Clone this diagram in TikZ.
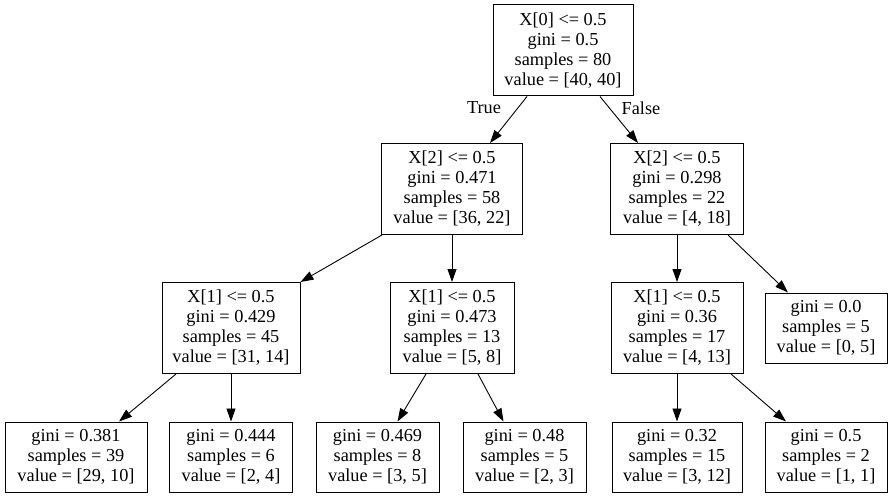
\documentclass[tikz,border=0pt]{standalone}
\usepackage{fontspec}
\setmainfont{Liberation Serif}
\usetikzlibrary{arrows.meta}
\begin{document}
\begin{tikzpicture}[x=1pt,y=-1pt,
  treebox/.style={draw=black, line width=1pt, align=center, inner xsep=6pt, inner ysep=0pt,
    font=\fontsize{18.3}{20}\selectfont},
  splitbox/.style={treebox, minimum height=91pt},
  leafbox/.style={treebox, minimum height=70pt},
  edge/.style={line width=0.9pt, -{Triangle[length=13pt,width=9pt]}},
  elabel/.style={font=\fontsize{18.3}{20}\selectfont, inner sep=0pt}]
\useasboundingbox (0,0) rectangle (893,497);

% split nodes
\node[splitbox, minimum width=140pt] (root) at (563,50.5) {X[0] <= 0.5\\gini = 0.5\\samples = 80\\value = [40, 40]};
\node[splitbox, minimum width=141pt] (l) at (452,189) {X[2] <= 0.5\\gini = 0.471\\samples = 58\\value = [36, 22]};
\node[splitbox, minimum width=133pt] (r) at (677,189) {X[2] <= 0.5\\gini = 0.298\\samples = 22\\value = [4, 18]};
\node[splitbox, minimum width=138pt] (ll) at (231,328) {X[1] <= 0.5\\gini = 0.429\\samples = 45\\value = [31, 14]};
\node[splitbox, minimum width=124pt] (lr) at (452,328) {X[1] <= 0.5\\gini = 0.473\\samples = 13\\value = [5, 8]};
\node[splitbox, minimum width=132pt] (rl) at (677,328) {X[1] <= 0.5\\gini = 0.36\\samples = 17\\value = [4, 13]};

% leaves
\node[leafbox, minimum width=122pt] (rr) at (826,328) {gini = 0.0\\samples = 5\\value = [0, 5]};
\node[leafbox, minimum width=142pt] (lll) at (76,457) {gini = 0.381\\samples = 39\\value = [29, 10]};
\node[leafbox, minimum width=123pt] (llr) at (231,457) {gini = 0.444\\samples = 6\\value = [2, 4]};
\node[leafbox, minimum width=123pt] (lrl) at (377.5,457) {gini = 0.469\\samples = 8\\value = [3, 5]};
\node[leafbox, minimum width=123pt] (lrr) at (524.5,457) {gini = 0.48\\samples = 5\\value = [2, 3]};
\node[leafbox, minimum width=130pt] (rll) at (677,457) {gini = 0.32\\samples = 15\\value = [3, 12]};
\node[leafbox, minimum width=122pt] (rlr) at (826,457) {gini = 0.5\\samples = 2\\value = [1, 1]};

% edge labels
\node[elabel] (ltrue) at (484,108) {True};
\node[elabel] (lfalse) at (641,108) {False};

% edges
\draw[edge] ([xshift=-36pt]root.south) -- ([xshift=38pt]l.north);
\draw[edge] ([xshift=37pt]root.south) -- ([xshift=-39pt]r.north);
\draw[edge] ([xshift=1pt]l.south west) -- (ll.north east);
\draw[edge] (l.south) -- (lr.north);
\draw[edge] (r.south) -- (rl.north);
\draw[edge] ([xshift=51pt]r.south) -- ([xshift=-38pt]rr.north);
\draw[edge] ([xshift=-55pt]ll.south) -- ([xshift=43pt]lll.north);
\draw[edge] (ll.south) -- (llr.north);
\draw[edge] ([xshift=-26pt]lr.south) -- ([xshift=20pt]lrl.north);
\draw[edge] ([xshift=26pt]lr.south) -- ([xshift=-21pt]lrr.north);
\draw[edge] (rl.south) -- (rll.north);
\draw[edge] ([xshift=54pt]rl.south) -- ([xshift=-40pt]rlr.north);
\end{tikzpicture}
\end{document}
